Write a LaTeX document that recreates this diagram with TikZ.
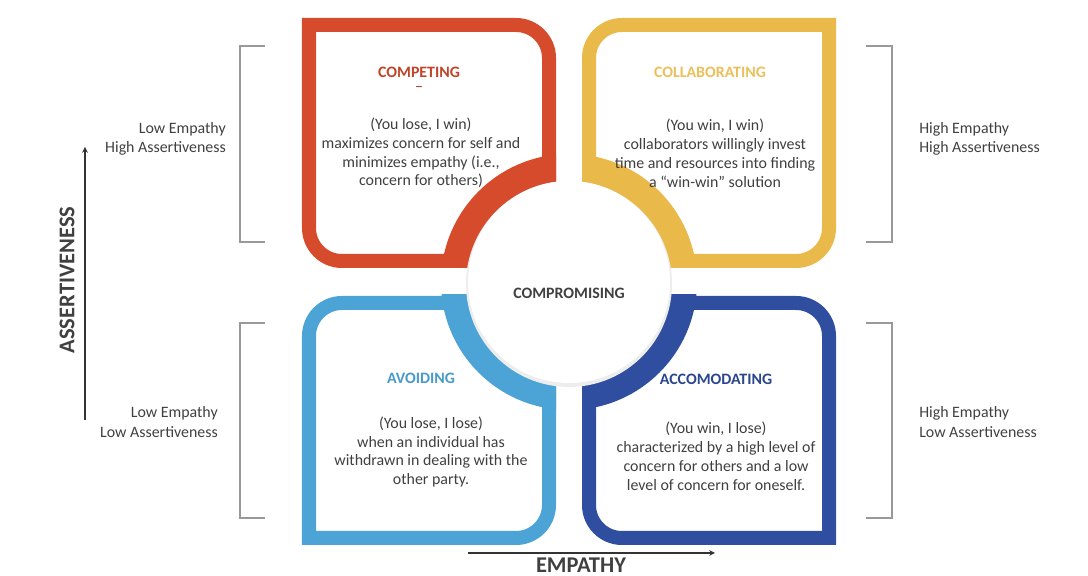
\documentclass[tikz,border=0pt]{standalone}
\usepackage{fontspec}
\setmainfont{Carlito}
\usepackage{xcolor}
\usepackage{tikz}
\definecolor{compred}{HTML}{D64B2C}
\definecolor{collyel}{HTML}{E9B949}
\definecolor{avblue}{HTML}{4BA3D6}
\definecolor{acblue}{HTML}{2F4E9F}
\definecolor{txtgray}{HTML}{404040}

\begin{document}
\begin{tikzpicture}[x=0.025cm, y=0.025cm,
    frame/.style={line width=9.96pt, line join=miter, fill=white},
    title/.style={font=\fontsize{11.3}{13.2}\selectfont\bfseries, inner sep=1pt},
    body/.style={font=\fontsize{11.3}{13.4}\selectfont, text=txtgray, align=center, inner sep=0pt},
    side/.style={font=\fontsize{11.3}{13.6}\selectfont, text=txtgray, inner sep=0pt},
    bracket/.style={gray!80, line width=0.8pt},
    axis/.style={->, >=stealth, line width=0.8pt, black!80},
    axislabel/.style={font=\fontsize{16}{18}\selectfont\bfseries, text=txtgray}]
    \useasboundingbox (0,0) rectangle (1088,576);
    % Draw the four quadrant frames
    \draw[frame, draw=compred] (309,551) -- (516,551) arc[start angle=90, end angle=0, radius=33] -- (549,315) -- (342,315) arc[start angle=270, end angle=180, radius=33] -- cycle;
    \draw[frame, draw=collyel] (589,518) arc[start angle=180, end angle=90, radius=33] -- (829,551) -- (829,348) arc[start angle=0, end angle=-90, radius=33] -- (589,315) -- cycle;
    \draw[frame, draw=avblue] (309,240) arc[start angle=180, end angle=90, radius=33] -- (549,273) -- (549,71) arc[start angle=0, end angle=-90, radius=33] -- (309,38) -- cycle;
    \draw[frame, draw=acblue] (589,273) -- (796,273) arc[start angle=90, end angle=0, radius=33] -- (829,38) -- (622,38) arc[start angle=270, end angle=180, radius=33] -- cycle;
    % Draw ring quarters around the middle
    \foreach \qx/\qy/\qcol in {302/308/compred, 582/308/collyel, 302/31/avblue, 582/31/acblue} {
        \begin{scope}
            \clip (\qx,\qy) rectangle ++(254,250);
            \fill[\qcol] (569,294) circle[radius=128];
        \end{scope}
    }
    \fill[black!7] (569,292) circle[radius=103];
    \node[circle, fill=white, minimum size=5.05cm, inner sep=0pt] (mid) at (569,294) {};
    \node[title, text=txtgray] (compro) at (569,283) {COMPROMISING};
    % Titles
    \node[title, text=compred!90!black] (compt) at (419,504) {COMPETING};
    \node[font=\fontsize{11.3}{13.2}\selectfont, text=compred!70!black, inner sep=0pt] (dash) at (419,487) {\textendash};
    \node[title, text=collyel!90!white] (collt) at (710,504) {COLLABORATING};
    \node[title, text=avblue!95!black] (avt) at (421,198) {AVOIDING};
    \node[title, text=acblue!90!black] (act) at (716,197) {ACCOMODATING};
    % Descriptions
    \node[body] (compb) at (421,423) {(You lose, I win)\\maximizes concern for self and\\minimizes empathy (i.e.,\\concern for others)};
    \node[body] (collb) at (715,423) {(You win, I win)\\collaborators willingly invest\\time and resources into finding\\a ``win-win'' solution};
    \node[body] (avb) at (431,124) {(You lose, I lose)\\when an individual has\\withdrawn in dealing with the\\other party.};
    \node[body] (acb) at (716,120) {(You win, I lose)\\characterized by a high level of\\concern for others and a low\\level of concern for oneself.};
    % Side labels
    \node[side, anchor=east, align=right] (lt) at (226,437) {Low Empathy\\High Assertiveness};
    \node[side, anchor=east, align=right] (lb) at (218,154) {Low Empathy\\Low Assertiveness};
    \node[side, anchor=west, align=left] (rt) at (919,437) {High Empathy\\High Assertiveness};
    \node[side, anchor=west, align=left] (rb) at (919,154) {High Empathy\\Low Assertiveness};
    % Brackets
    \draw[bracket] (265,530) -- (240,530) -- (240,334) -- (265,334);
    \draw[bracket] (265,253) -- (240,253) -- (240,58) -- (265,58);
    \draw[bracket] (866,530) -- (892,530) -- (892,334) -- (866,334);
    \draw[bracket] (866,253) -- (892,253) -- (892,58) -- (866,58);
    % Axes
    \coordinate (ay0) at (85,156);
    \coordinate (ay1) at (85,429);
    \draw[axis] (ay0) -- (ay1);
    \node[axislabel, rotate=90] (assert) at (67,296) {ASSERTIVENESS};
    \coordinate (ax0) at (468,23);
    \coordinate (ax1) at (715,23);
    \draw[axis] (ax0) -- (ax1);
    \node[axislabel] (emp) at (581,11) {EMPATHY};
\end{tikzpicture}
\end{document}
